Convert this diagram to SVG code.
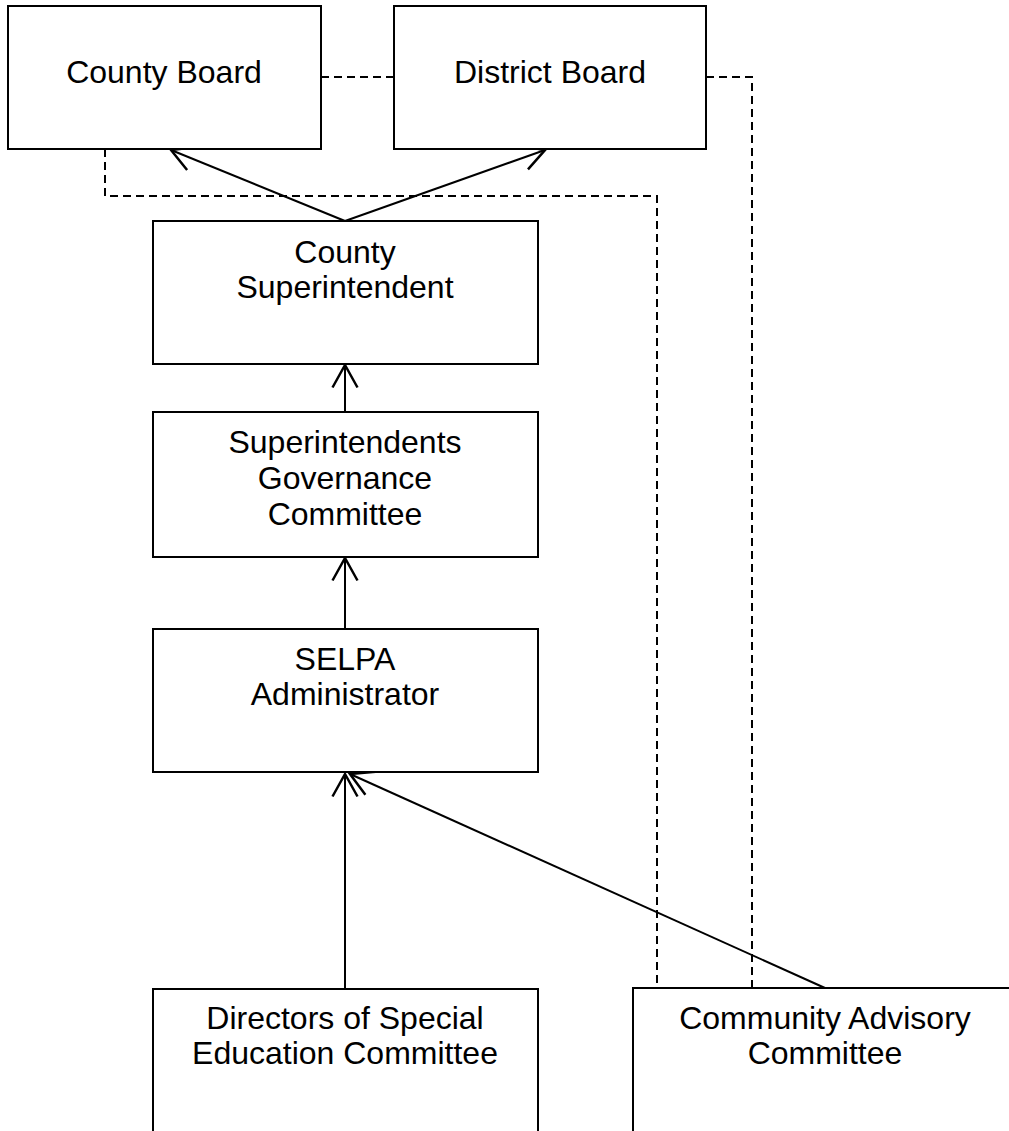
<svg xmlns="http://www.w3.org/2000/svg" width="1009" height="1131" viewBox="0 0 1009 1131">
<style>
.box{fill:#fff;stroke:#000;stroke-width:2}
.t{font-family:"Liberation Sans",Arial,sans-serif;font-size:32px;fill:#000;text-anchor:middle}
.arr{fill:none;stroke:#000;stroke-width:2;marker-end:url(#open)}
.dash{fill:none;stroke:#000;stroke-width:2;stroke-dasharray:8,5}
</style>
<defs>
<marker id="open" markerUnits="userSpaceOnUse" markerWidth="30" markerHeight="30" viewBox="-20 -12 22 24" refX="0" refY="0" orient="auto" overflow="visible">
<path d="M-18,-10 L0,0 L-18,10" fill="none" stroke="#000" stroke-width="2"/>
</marker>
</defs>
<rect width="1009" height="1131" fill="#fff"/>
<g id="connectors">
<path class="dash" d="M321,77 H394"/>
<path class="dash" d="M706,77 H752 V988"/>
<path class="dash" d="M105,149 V196 H657 V988"/>
<path class="arr" d="M345,221 L171,150"/>
<path class="arr" d="M345,221 L545,150"/>
<path class="arr" d="M345,412 V365"/>
<path class="arr" d="M345,629 V558"/>
<path class="arr" d="M345,989 V774"/>
<path class="arr" d="M825,988 L350,774"/>
</g>
<g id="county-board">
<rect class="box" x="8" y="6" width="313" height="143"/>
<text class="t" x="164" y="83">County Board</text>
</g>
<g id="district-board">
<rect class="box" x="394" y="6" width="312" height="143"/>
<text class="t" x="550" y="83">District Board</text>
</g>
<g id="county-superintendent">
<rect class="box" x="153" y="221" width="385" height="143"/>
<text class="t" x="345" y="263">County</text>
<text class="t" x="345" y="298">Superintendent</text>
</g>
<g id="governance-committee">
<rect class="box" x="153" y="412" width="385" height="145"/>
<text class="t" x="345" y="453">Superintendents</text>
<text class="t" x="345" y="489">Governance</text>
<text class="t" x="345" y="525">Committee</text>
</g>
<g id="selpa-administrator">
<rect class="box" x="153" y="629" width="385" height="143"/>
<text class="t" x="345" y="670">SELPA</text>
<text class="t" x="345" y="705">Administrator</text>
</g>
<g id="directors-committee">
<rect class="box" x="153" y="989" width="385" height="160"/>
<text class="t" x="345" y="1029">Directors of Special</text>
<text class="t" x="345" y="1064">Education Committee</text>
</g>
<g id="community-advisory">
<rect class="box" x="633" y="988" width="400" height="160"/>
<text class="t" x="825" y="1029">Community Advisory</text>
<text class="t" x="825" y="1064">Committee</text>
</g>
</svg>
